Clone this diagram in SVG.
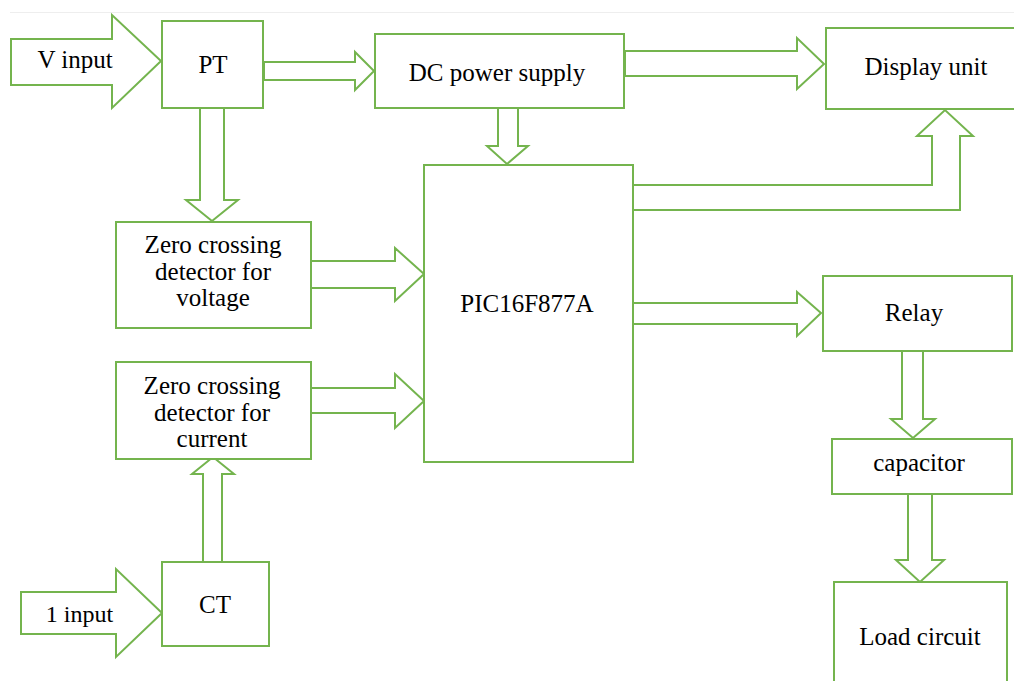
<svg xmlns="http://www.w3.org/2000/svg" width="1014" height="681" viewBox="0 0 1014 681">
<defs>
<style>
.box{fill:#fff;stroke:#74B44E;stroke-width:2}
.arr{fill:#fff;stroke:#74B44E;stroke-width:2;stroke-linejoin:miter}
.t{font-family:"Liberation Serif","Times New Roman",serif;font-size:25px;fill:#000;text-anchor:middle}
</style>
</defs>
<rect x="0" y="0" width="1014" height="681" fill="#fff"/>
<line x1="10" y1="12.5" x2="1014" y2="12.5" stroke="#eeeeee" stroke-width="1"/>
<g id="connectors">
<polygon class="arr" points="264,62 355,62 355,52 374,71 355,90 355,80 264,80"/>
<polygon class="arr" points="200,108 224,108 224,200 238,200 212,221 186,200 200,200"/>
<polygon class="arr" points="498,108 518,108 518,146 528,146 507,164 487,146 498,146"/>
<polygon class="arr" points="625,51 797,51 797,38 824,64 797,89 797,76 625,76"/>
<polygon class="arr" points="633,185 932,185 932,136 917,136 945,110 973,136 960,136 960,210 633,210"/>
<polygon class="arr" points="311,261 395,261 395,248 424,274 395,301 395,288 311,288"/>
<polygon class="arr" points="311,388 395,388 395,374 424,401 395,428 395,413 311,413"/>
<polygon class="arr" points="633,303 797,303 797,292 821,313 797,336 797,324 633,324"/>
<polygon class="arr" points="902,351 923,351 923,419 935,419 913,438 891,419 902,419"/>
<polygon class="arr" points="908,494 932,494 932,560 944,560 920,582 896,560 908,560"/>
<polygon class="arr" points="222,562 203,562 203,474 192,474 213,457 234,474 222,474"/>
</g>
<g id="v-input">
<polygon class="arr" points="11,39 112,39 112,15 161,61 112,108 112,85 11,85"/>
<text class="t" x="75" y="68">V input</text>
</g>
<g id="i-input">
<polygon class="arr" points="21,592 116,592 116,569 162,613 116,657 116,634 21,634"/>
<text class="t" x="79.5" y="622" style="font-size:24px">1 input</text>
</g>
<g id="pt">
<rect class="box" x="162" y="21" width="101" height="87"/>
<text class="t" x="213" y="73">PT</text>
</g>
<g id="dc-power-supply">
<rect class="box" x="375" y="34" width="249" height="74"/>
<text class="t" x="497" y="81">DC power supply</text>
</g>
<g id="display-unit">
<rect class="box" x="826" y="28" width="200" height="81"/>
<text class="t" x="926" y="75">Display unit</text>
</g>
<g id="zcd-voltage">
<rect class="box" x="116" y="222" width="195" height="106"/>
<text class="t" x="213" y="253">Zero crossing</text>
<text class="t" x="213" y="280">detector for</text>
<text class="t" x="213" y="306">voltage</text>
</g>
<g id="zcd-current">
<rect class="box" x="116" y="362" width="195" height="97"/>
<text class="t" x="212" y="394">Zero crossing</text>
<text class="t" x="212" y="421">detector for</text>
<text class="t" x="212" y="447">current</text>
</g>
<g id="pic">
<rect class="box" x="424" y="165" width="209" height="297"/>
<text class="t" x="527" y="312">PIC16F877A</text>
</g>
<g id="ct">
<rect class="box" x="162" y="562" width="107" height="84"/>
<text class="t" x="215" y="613">CT</text>
</g>
<g id="relay">
<rect class="box" x="823" y="276" width="189" height="75"/>
<text class="t" x="914" y="321">Relay</text>
</g>
<g id="capacitor">
<rect class="box" x="832" y="439" width="180" height="55"/>
<text class="t" x="919" y="471">capacitor</text>
</g>
<g id="load-circuit">
<rect class="box" x="834" y="582" width="173" height="110"/>
<text class="t" x="920" y="645">Load circuit</text>
</g>
</svg>
